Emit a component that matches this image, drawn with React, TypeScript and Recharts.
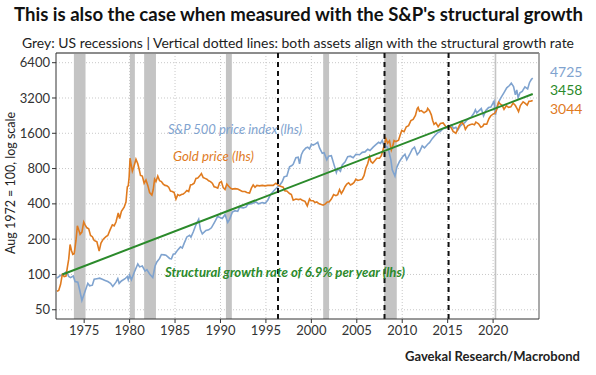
import React from "react";
import {
  CartesianGrid,
  ComposedChart,
  Line,
  ReferenceArea,
  ReferenceLine,
  XAxis,
  YAxis,
} from "recharts";

// Index values, Aug 1972 = 100 (t = decimal year)
const spx: [number, number][] = [
  [1972.0, 93], [1972.3, 97], [1972.6, 100], [1972.9, 103], [1973.05, 106], [1973.3, 96],
  [1973.5, 94], [1973.8, 97], [1974.0, 87], [1974.3, 86], [1974.5, 74], [1974.75, 60],
  [1974.9, 65], [1975.1, 72], [1975.4, 84], [1975.6, 80], [1975.9, 81], [1976.1, 91],
  [1976.4, 92], [1976.7, 93], [1977.0, 91], [1977.3, 89], [1977.6, 87], [1977.9, 84],
  [1978.15, 79], [1978.5, 86], [1978.7, 92], [1978.85, 84], [1979.1, 88], [1979.5, 92],
  [1979.75, 96], [1979.85, 90], [1980.0, 99], [1980.2, 90], [1980.5, 104], [1980.9, 123],
  [1981.1, 116], [1981.4, 118], [1981.7, 107], [1981.9, 110], [1982.2, 101], [1982.55, 94],
  [1982.8, 118], [1983.0, 128], [1983.3, 137], [1983.5, 148], [1983.8, 147], [1984.0, 146],
  [1984.4, 137], [1984.6, 136], [1984.8, 149], [1985.0, 150], [1985.3, 162], [1985.6, 172],
  [1985.8, 168], [1986.0, 184], [1986.3, 209], [1986.6, 216], [1986.75, 208], [1987.0, 230],
  [1987.3, 265], [1987.6, 295], [1987.8, 240], [1988.0, 222], [1988.4, 237], [1988.7, 240],
  [1989.0, 250], [1989.4, 284], [1989.7, 314], [1989.9, 307], [1990.2, 300], [1990.5, 324],
  [1990.8, 278], [1991.0, 295], [1991.3, 340], [1991.6, 350], [1991.9, 345], [1992.1, 375],
  [1992.5, 370], [1992.8, 375], [1993.0, 395], [1993.5, 403], [1993.9, 415], [1994.2, 400],
  [1994.6, 410], [1994.9, 405], [1995.2, 430], [1995.5, 480], [1995.9, 520], [1996.3, 560],
  [1996.5, 575], [1996.8, 620], [1997.0, 680], [1997.3, 690], [1997.6, 830], [1997.85, 850],
  [1998.0, 870], [1998.3, 990], [1998.55, 1000], [1998.7, 880], [1998.9, 1050], [1999.1, 1130],
  [1999.4, 1200], [1999.6, 1220], [1999.8, 1180], [2000.0, 1290], [2000.2, 1270], [2000.45, 1300],
  [2000.7, 1340], [2000.9, 1200], [2001.2, 1080], [2001.4, 1090], [2001.7, 950], [2001.9, 1020],
  [2002.2, 1030], [2002.5, 860], [2002.75, 740], [2002.9, 800], [2003.2, 760], [2003.4, 860],
  [2003.7, 910], [2004.0, 1010], [2004.3, 1020], [2004.6, 990], [2004.9, 1060], [2005.3, 1050],
  [2005.6, 1100], [2005.9, 1110], [2006.2, 1170], [2006.45, 1140], [2006.8, 1220], [2007.1, 1280],
  [2007.4, 1340], [2007.6, 1310], [2007.8, 1390], [2008.0, 1250], [2008.3, 1230], [2008.5, 1150],
  [2008.75, 950], [2008.9, 780], [2009.2, 690], [2009.4, 820], [2009.7, 920], [2010.0, 1000],
  [2010.3, 1060], [2010.5, 950], [2010.8, 1050], [2011.1, 1170], [2011.35, 1220], [2011.65, 1050],
  [2011.9, 1110], [2012.2, 1250], [2012.45, 1200], [2012.8, 1290], [2013.0, 1330], [2013.3, 1440],
  [2013.6, 1530], [2013.9, 1620], [2014.2, 1660], [2014.5, 1760], [2014.8, 1770], [2015.0, 1820],
  [2015.4, 1880], [2015.65, 1760], [2015.9, 1800], [2016.1, 1700], [2016.4, 1850], [2016.7, 1930],
  [2016.9, 1980], [2017.2, 2110], [2017.6, 2200], [2017.9, 2380], [2018.05, 2540], [2018.2, 2390],
  [2018.7, 2600], [2018.95, 2250], [2019.2, 2500], [2019.5, 2650], [2019.75, 2680], [2020.0, 2910],
  [2020.1, 3000], [2020.25, 2300], [2020.45, 2740], [2020.7, 3050], [2020.9, 3250], [2021.2, 3560],
  [2021.5, 3910], [2021.8, 4090], [2022.0, 4280], [2022.25, 4000], [2022.45, 3400], [2022.6, 3750],
  [2022.75, 3230], [2022.95, 3540], [2023.2, 3640], [2023.5, 3980], [2023.8, 3820], [2024.0, 4320],
  [2024.2, 4600], [2024.36, 4725],
];

const gold: [number, number][] = [
  [1972.0, 72], [1972.2, 73], [1972.4, 82], [1972.55, 96], [1972.6, 100], [1972.8, 96],
  [1973.0, 97], [1973.15, 115], [1973.3, 135], [1973.45, 180], [1973.6, 160], [1973.75, 148],
  [1973.9, 150], [1974.1, 195], [1974.25, 260], [1974.4, 240], [1974.55, 220], [1974.75, 230],
  [1974.95, 280], [1975.1, 265], [1975.3, 250], [1975.5, 245], [1975.7, 215], [1975.9, 210],
  [1976.1, 195], [1976.4, 190], [1976.65, 158], [1976.85, 185], [1977.1, 200], [1977.4, 210],
  [1977.6, 215], [1977.85, 240], [1978.1, 265], [1978.3, 260], [1978.5, 280], [1978.75, 335],
  [1978.9, 300], [1979.1, 345], [1979.4, 375], [1979.6, 415], [1979.75, 560], [1979.85, 570],
  [1979.95, 680], [1980.05, 980], [1980.15, 880], [1980.3, 760], [1980.45, 820], [1980.7, 960],
  [1980.9, 880], [1981.05, 790], [1981.2, 700], [1981.4, 690], [1981.6, 600], [1981.8, 640],
  [1982.0, 575], [1982.2, 500], [1982.45, 475], [1982.6, 530], [1982.75, 650], [1982.9, 620],
  [1983.1, 690], [1983.3, 630], [1983.5, 620], [1983.7, 590], [1983.9, 575], [1984.1, 570],
  [1984.3, 555], [1984.5, 515], [1984.7, 510], [1984.9, 500], [1985.1, 440], [1985.3, 480],
  [1985.5, 470], [1985.7, 480], [1985.9, 485], [1986.1, 500], [1986.3, 520], [1986.5, 510],
  [1986.7, 580], [1986.9, 585], [1987.1, 600], [1987.3, 660], [1987.5, 665], [1987.7, 690],
  [1987.9, 725], [1988.1, 670], [1988.3, 660], [1988.5, 650], [1988.7, 630], [1988.9, 620],
  [1989.1, 600], [1989.3, 560], [1989.5, 555], [1989.7, 545], [1989.9, 605], [1990.1, 620],
  [1990.3, 550], [1990.5, 530], [1990.7, 590], [1990.9, 565], [1991.1, 545], [1991.3, 535],
  [1991.6, 540], [1991.9, 535], [1992.1, 525], [1992.4, 510], [1992.7, 510], [1992.9, 500],
  [1993.2, 495], [1993.4, 545], [1993.6, 580], [1993.8, 555], [1994.0, 575], [1994.3, 570],
  [1994.6, 575], [1994.9, 570], [1995.2, 575], [1995.5, 575], [1995.8, 575], [1996.1, 600],
  [1996.3, 580], [1996.6, 565], [1996.9, 555], [1997.1, 515], [1997.3, 515], [1997.6, 490],
  [1997.8, 480], [1998.0, 430], [1998.3, 440], [1998.6, 435], [1998.8, 440], [1999.0, 430],
  [1999.3, 420], [1999.55, 385], [1999.8, 440], [1999.95, 425], [2000.2, 425], [2000.4, 410],
  [2000.6, 415], [2000.85, 400], [2001.1, 395], [2001.3, 390], [2001.55, 400], [2001.75, 415],
  [2001.95, 415], [2002.2, 440], [2002.45, 480], [2002.7, 470], [2002.9, 480], [2003.1, 530],
  [2003.3, 490], [2003.5, 520], [2003.7, 560], [2003.9, 590], [2004.1, 605], [2004.3, 580],
  [2004.5, 590], [2004.7, 610], [2004.9, 650], [2005.1, 635], [2005.3, 640], [2005.6, 650],
  [2005.8, 700], [2006.0, 810], [2006.2, 880], [2006.4, 1010], [2006.55, 920], [2006.75, 890],
  [2006.95, 930], [2007.2, 980], [2007.5, 980], [2007.7, 1030], [2007.9, 1170], [2008.1, 1330],
  [2008.2, 1440], [2008.4, 1320], [2008.6, 1380], [2008.8, 1150], [2008.95, 1240], [2009.1, 1390],
  [2009.3, 1360], [2009.6, 1400], [2009.8, 1570], [2009.95, 1690], [2010.2, 1650], [2010.45, 1820],
  [2010.7, 1860], [2010.95, 2050], [2011.2, 2100], [2011.45, 2270], [2011.65, 2600], [2011.75, 2660],
  [2011.9, 2470], [2012.1, 2500], [2012.4, 2390], [2012.7, 2480], [2012.8, 2610], [2013.0, 2490],
  [2013.2, 2300], [2013.35, 2060], [2013.5, 1910], [2013.7, 1970], [2013.95, 1820], [2014.2, 1940],
  [2014.5, 1960], [2014.8, 1820], [2014.95, 1790], [2015.1, 1860], [2015.4, 1780], [2015.6, 1660],
  [2015.9, 1600], [2016.1, 1730], [2016.3, 1880], [2016.55, 2000], [2016.8, 1880], [2016.95, 1730],
  [2017.2, 1850], [2017.45, 1890], [2017.7, 1920], [2017.95, 1890], [2018.1, 1990], [2018.4, 1930],
  [2018.65, 1800], [2018.85, 1830], [2019.0, 1920], [2019.3, 1910], [2019.55, 2140], [2019.75, 2260],
  [2020.0, 2330], [2020.2, 2380], [2020.4, 2550], [2020.6, 2940], [2020.8, 2840], [2021.0, 2770],
  [2021.2, 2560], [2021.45, 2750], [2021.7, 2660], [2021.95, 2690], [2022.2, 2900], [2022.45, 2760],
  [2022.65, 2580], [2022.8, 2450], [2023.0, 2760], [2023.3, 2970], [2023.5, 2890], [2023.75, 2780],
  [2023.95, 3000], [2024.15, 3010], [2024.36, 3044],
];

// 6.9% a year structural growth line, start and end points
const trend: [number, number][] = [
  [1972.6, 100],
  [2024.36, 3458],
];

const recessions: [number, number][] = [
  [1973.87, 1975.15],
  [1980.03, 1980.58],
  [1981.6, 1982.9],
  [1990.6, 1991.25],
  [2001.3, 2001.95],
  [2008.0, 2009.4],
  [2020.17, 2020.35],
];

const alignDates = [1996.33, 2008.05, 2015.1];
const yearTicks = [1975, 1980, 1985, 1990, 1995, 2000, 2005, 2010, 2015, 2020];
const valueTicks = [50, 100, 200, 400, 800, 1600, 3200, 6400];
const lastValues = ["4725", "3458", "3044"];

const X_DOMAIN: [number, number] = [1971.9, 2025.05];
const Y_DOMAIN: [number, number] = [41.7, 7742];

const BLUE = "#7fa3cf";
const ORANGE = "#e07b1f";
const GREEN = "#2b8a2b";
const FONT = "Lato, 'Open Sans', sans-serif";

const toRows = (pts: [number, number][]) => pts.map(([t, v]) => ({ t, v }));

export default function App() {
  const tickStyle = { fill: "#333", fontSize: 13, fontFamily: FONT };
  return (
    <div
      style={{
        position: "absolute",
        left: 0,
        top: 0,
        width: 596,
        height: 375,
        background: "#fff",
      }}
    >
      <ComposedChart
        width={596}
        height={375}
        margin={{ top: 53, right: 57, bottom: 34, left: 0 }}
      >
        <CartesianGrid
          stroke="#c8c8c8"
          strokeDasharray="1 2"
          horizontalValues={valueTicks}
          verticalValues={yearTicks}
        />
        {recessions.map(([a, b]) => (
          <ReferenceArea
            key={a}
            x1={a}
            x2={b}
            fill="#c4c4c4"
            fillOpacity={1}
            stroke="none"
            ifOverflow="hidden"
          />
        ))}
        <XAxis
          dataKey="t"
          type="number"
          domain={X_DOMAIN}
          allowDataOverflow
          ticks={yearTicks}
          tick={tickStyle}
          tickSize={4}
          tickMargin={3}
          height={22}
          axisLine={{ stroke: "#333" }}
          tickLine={{ stroke: "#333" }}
        />
        <YAxis
          dataKey="v"
          scale="log"
          domain={Y_DOMAIN}
          allowDataOverflow
          ticks={valueTicks}
          tick={tickStyle}
          tickSize={4}
          tickMargin={2}
          width={56}
          axisLine={{ stroke: "#333" }}
          tickLine={{ stroke: "#333" }}
        />
        <ReferenceLine y={Y_DOMAIN[1]} stroke="#8c8c8c" strokeWidth={2} />
        <ReferenceLine x={X_DOMAIN[1]} stroke="#8c8c8c" strokeWidth={1.5} />
        <Line
          data={toRows(spx)}
          dataKey="v"
          type="linear"
          stroke={BLUE}
          strokeWidth={1.6}
          dot={false}
          isAnimationActive={false}
        />
        <Line
          data={toRows(gold)}
          dataKey="v"
          type="linear"
          stroke={ORANGE}
          strokeWidth={1.6}
          dot={false}
          isAnimationActive={false}
        />
        <Line
          data={toRows(trend)}
          dataKey="v"
          type="linear"
          stroke={GREEN}
          strokeWidth={2}
          dot={false}
          isAnimationActive={false}
        />
        {alignDates.map((d) => (
          <ReferenceLine
            key={d}
            x={d}
            stroke="#111"
            strokeWidth={2}
            strokeDasharray="5 4"
          />
        ))}
      </ComposedChart>

      <svg
        width={596}
        height={375}
        style={{ position: "absolute", left: 0, top: 0, pointerEvents: "none" }}
        fontFamily={FONT}
      >
        <text x={14} y={21} fontSize={18.5} fontWeight={700} fill="#111" textLength={569} lengthAdjust="spacingAndGlyphs">
          This is also the case when measured with the S&amp;P's structural growth
        </text>
        <text x={22} y={48} fontSize={14} fill="#222" textLength={552} lengthAdjust="spacingAndGlyphs">
          Grey: US recessions | Vertical dotted lines: both assets align with the structural growth rate
        </text>
        <text
          transform="translate(15 183) rotate(-90)"
          textAnchor="middle"
          fontSize={14}
          fill="#222"
          textLength={142}
          lengthAdjust="spacingAndGlyphs"
        >
          Aug 1972 = 100, log scale
        </text>
        <text x={168} y={134} fontSize={13} fontStyle="italic" fill={BLUE} textLength={134} lengthAdjust="spacingAndGlyphs">
          S&amp;P 500 price index (lhs)
        </text>
        <text x={173} y={161} fontSize={13} fontStyle="italic" fill={ORANGE} textLength={81} lengthAdjust="spacingAndGlyphs">
          Gold price (lhs)
        </text>
        <text x={165} y={277} fontSize={13} fontStyle="italic" fontWeight={700} fill={GREEN} textLength={240} lengthAdjust="spacingAndGlyphs">
          Structural growth rate of 6.9% per year (lhs)
        </text>
        <text x={550} y={77} fontSize={14} fill={BLUE}>{lastValues[0]}</text>
        <text x={550} y={95} fontSize={14} fill={GREEN}>{lastValues[1]}</text>
        <text x={550} y={114} fontSize={14} fill={ORANGE}>{lastValues[2]}</text>
        <text x={580} y={361} fontSize={12.5} fontWeight={700} fill="#222" textAnchor="end" textLength={175} lengthAdjust="spacingAndGlyphs">
          Gavekal Research/Macrobond
        </text>
      </svg>
    </div>
  );
}
